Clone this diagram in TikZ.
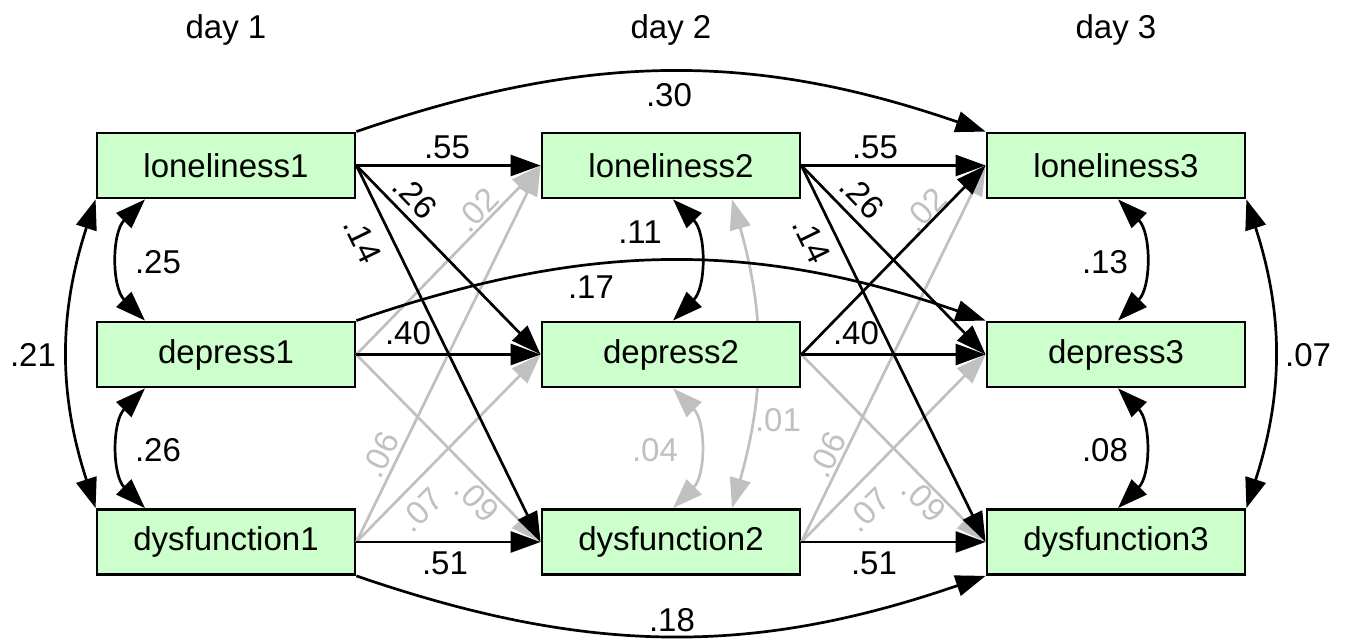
\documentclass[tikz,border=0pt]{standalone}
\usepackage{fontspec}
\setmainfont{Liberation Sans}
\usetikzlibrary{arrows.meta,backgrounds}
\definecolor{boxgreen}{RGB}{204,255,204}
\definecolor{lightgr}{RGB}{192,192,192}
\begin{document}
\begin{tikzpicture}[x=1pt,y=1pt,
  box/.style={draw=black, line width=2.8pt, fill=boxgreen, minimum width=258pt, minimum height=65pt, inner sep=0pt, font=\fontsize{33}{39}\selectfont},
  lab/.style={font=\fontsize{33}{39}\selectfont, inner sep=0pt},
  glab/.style={lab, text=lightgr},
  reg/.style={line width=2.7pt, draw=black, -{Triangle[length=30pt,width=21pt]}},
  greg/.style={reg, draw=lightgr, -{Triangle[length=30pt,width=21pt,color=lightgr]}},
  cov/.style={line width=2.7pt, draw=black, {Triangle[length=30pt,width=21pt]}-{Triangle[length=30pt,width=21pt]}},
  gcov/.style={line width=2.7pt, draw=lightgr, {Triangle[length=30pt,width=21pt,color=lightgr]}-{Triangle[length=30pt,width=21pt,color=lightgr]}}
]
\useasboundingbox (0,0) rectangle (1352,643);

% headers
\node[lab] (h1) at (226,613) {day 1};
\node[lab] (h2) at (671,613) {day 2};
\node[lab] (h3) at (1116,613) {day 3};

% boxes
\node[box] (l1) at (226,477.5) {loneliness1};
\node[box] (d1) at (226,288.5) {depress1};
\node[box] (f1) at (226,101) {dysfunction1};
\node[box] (l2) at (671,477.5) {loneliness2};
\node[box] (d2) at (671,288.5) {depress2};
\node[box] (f2) at (671,101) {dysfunction2};
\node[box] (l3) at (1116,477.5) {loneliness3};
\node[box] (d3) at (1116,288.5) {depress3};
\node[box] (f3) at (1116,101) {dysfunction3};

% gray cross-lagged paths
\draw[greg] (d1.east) -- (l2.west);
\draw[greg] (f1.east) -- (l2.west);
\draw[greg] (f1.east) -- (d2.west);
\draw[greg] (d1.east) -- (f2.west);
\draw[greg] (f2.east) -- (l3.west);
\draw[greg] (f2.east) -- (d3.west);
\draw[greg] (d2.east) -- (f3.west);

% black paths
\draw[reg] (l1.east) -- (l2.west);
\draw[reg] (l1.east) -- (d2.west);
\draw[reg] (l1.east) -- (f2.west);
\draw[reg] (d1.east) -- (d2.west);
\draw[reg] (f1.east) -- (f2.west);
\draw[reg] (l2.east) -- (l3.west);
\draw[reg] (l2.east) -- (d3.west);
\draw[reg] (l2.east) -- (f3.west);
\draw[reg] (d2.east) -- (d3.west);
\draw[reg] (d2.east) -- (l3.west);
\draw[reg] (f2.east) -- (f3.west);

% lag-2 curves
\draw[reg] (l1.north east) to[bend left=19] (l3.north west);
\draw[reg] (d1.north east) to[bend left=19] (d3.north west);
\draw[reg] (f1.south east) to[bend right=19] (f3.south west);

% covariances
\draw[cov] ([xshift=-81pt]l1.south) to[bend right=45] ([xshift=-81pt]d1.north);
\draw[cov] ([xshift=-81pt]d1.south) to[bend right=45] ([xshift=-81pt]f1.north);
\draw[cov] (l1.south west) to[bend right=18] (f1.north west);
\draw[cov] ([xshift=2pt]l2.south) to[bend left=45] ([xshift=2pt]d2.north);
\draw[gcov] ([xshift=2pt]d2.south) to[bend left=45] ([xshift=2pt]f2.north);
\begin{pgfonlayer}{background}
\draw[gcov] ([xshift=61pt]l2.south) to[bend left=16] ([xshift=61pt]f2.north);
\end{pgfonlayer}
\draw[cov] ([xshift=2pt]l3.south) to[bend left=45] ([xshift=2pt]d3.north);
\draw[cov] ([xshift=2pt]d3.south) to[bend left=45] ([xshift=2pt]f3.north);
\draw[cov] (l3.south east) to[bend left=18] (f3.north east);

% labels day1->2
\node[lab] (a55) at (447,496) {.55};
\node[lab, rotate=-46] (a26) at (415,446) {.26};
\node[lab, rotate=-64] (a14) at (363,403) {.14};
\node[glab, rotate=46] (a02) at (477,433) {.02};
\node[lab] (a40) at (408,310) {.40};
\node[glab, rotate=64] (a06) at (380,188) {.06};
\node[glab, rotate=45] (a07) at (421,133) {.07};
\node[glab, rotate=-46] (a09) at (477,143) {.09};
\node[lab] (a51) at (445,80) {.51};
% labels day2->3
\node[lab] (b55) at (875,496) {.55};
\node[lab, rotate=-46] (b26) at (862,446) {.26};
\node[lab, rotate=-64] (b14) at (812,403) {.14};
\node[glab, rotate=46] (b02) at (925,433) {.02};
\node[lab] (b40) at (856,310) {.40};
\node[glab, rotate=64] (b06) at (827,188) {.06};
\node[glab, rotate=45] (b07) at (868,133) {.07};
\node[glab, rotate=-46] (b09) at (924,143) {.09};
\node[lab] (b51) at (874,80) {.51};
% lag-2 labels
\node[lab] (c30) at (669,548) {.30};
\node[lab] (c17) at (591,356) {.17};
\node[lab] (c18) at (672,23) {.18};
% covariance labels
\node[lab] (k25) at (158,381) {.25};
\node[lab] (k26) at (158,193) {.26};
\node[lab] (k21) at (33,288) {.21};
\node[lab] (k11) at (640,411) {.11};
\node[glab] (k04) at (655,193) {.04};
\node[glab] (k01) at (778,223) {.01};
\node[lab] (k13) at (1105,381) {.13};
\node[lab] (k08) at (1105,193) {.08};
\node[lab] (k07) at (1308,288) {.07};
\end{tikzpicture}
\end{document}
